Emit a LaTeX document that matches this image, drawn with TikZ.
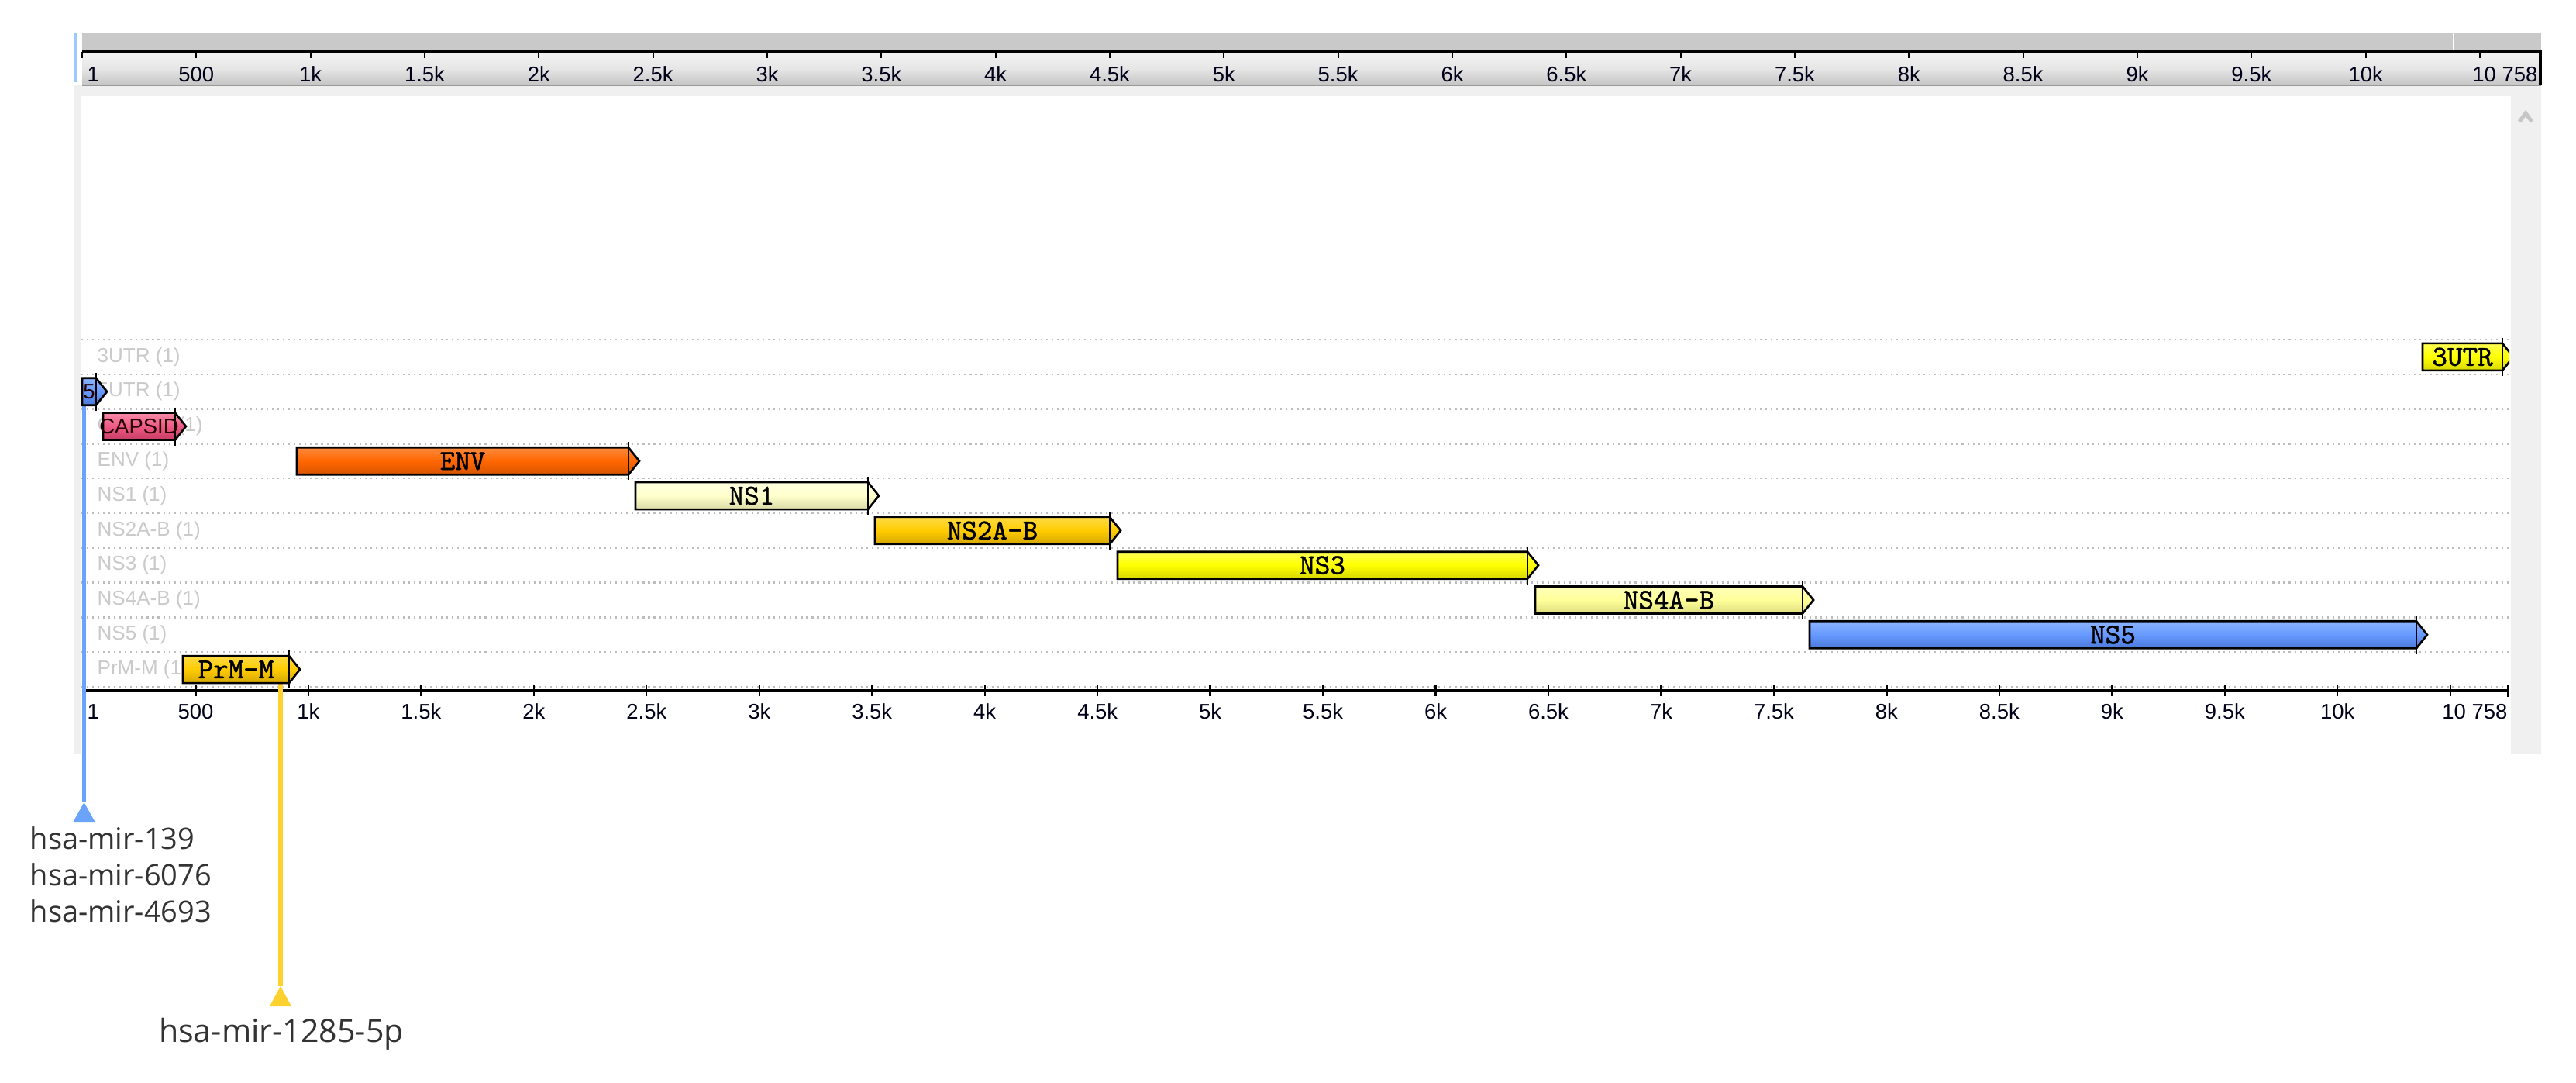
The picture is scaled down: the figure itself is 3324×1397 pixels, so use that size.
\documentclass[tikz,border=0pt]{standalone}
\usepackage{fontspec}
\setmainfont{Liberation Sans}
\newfontfamily\monof[FakeBold=1.2]{Latin Modern Mono}
\newfontfamily\mirf{Open Sans}
\definecolor{topgray}{HTML}{C9C9C9}
\definecolor{framegray}{HTML}{F0F0F0}
\definecolor{bandtop}{HTML}{F2F2F2}
\definecolor{bandmid}{HTML}{E6E6E6}
\definecolor{bandbot}{HTML}{C4C4C4}
\definecolor{stripblue}{HTML}{9CC9FF}
\definecolor{rowgray}{HTML}{CACACA}
\definecolor{dotgray}{HTML}{BDBDBD}
\definecolor{mblue}{HTML}{6AA3FA}
\definecolor{myellow}{HTML}{FFD12E}
\definecolor{mirtext}{HTML}{333333}
% feature colours
\definecolor{blT}{HTML}{8CB4FF}\definecolor{blM}{HTML}{6699FF}\definecolor{blB}{HTML}{4A78D8}
\definecolor{pkT}{HTML}{F88AA8}\definecolor{pkM}{HTML}{EE5A85}\definecolor{pkB}{HTML}{C83C64}
\definecolor{orT}{HTML}{FF8A3D}\definecolor{orM}{HTML}{FF6600}\definecolor{orB}{HTML}{D85400}
\definecolor{pyT}{HTML}{FFFFE0}\definecolor{pyM}{HTML}{FFFFCC}\definecolor{pyB}{HTML}{DADAA6}
\definecolor{gdT}{HTML}{FFDA45}\definecolor{gdM}{HTML}{FFCC00}\definecolor{gdB}{HTML}{D4A600}
\definecolor{ylT}{HTML}{FFFF55}\definecolor{ylM}{HTML}{FFFF00}\definecolor{ylB}{HTML}{D6D600}
\definecolor{lyT}{HTML}{FFFFBB}\definecolor{lyM}{HTML}{FFFF99}\definecolor{lyB}{HTML}{DCDC7E}

\newcommand\feat[9]{%
  \pgfmathsetmacro\fc{460.4+44.8*#4}%
  \path[draw=black, line width=0.75pt, line join=miter, top color=#5, bottom color=#7, middle color=#6]
    (#2,\fc-17.5) -- (#3,\fc-17.5) -- (#3+14,\fc) -- (#3,\fc+17.5) -- (#2,\fc+17.5) -- cycle;
  \draw[line width=0.65pt] (#3,\fc-24.5) -- (#3,\fc+24.5);
  \node[#9] (#1) at ({(#2+#3)/2},\fc) {#8};
}

\begin{document}
\begin{tikzpicture}[x=0.01cm,y=-0.01cm,
  rulerlab/.style={font=\fontsize{7.8}{9}\selectfont, text=black!90!blue, inner sep=0pt},
  rowlab/.style={font=\fontsize{7.4}{9}\selectfont, text=rowgray, anchor=west, inner sep=0pt},
  featlab/.style={font=\monof\fontsize{10.6}{12}\selectfont, text=black, inner sep=0pt},
  sanslab/.style={font=\fontsize{7.8}{9}\selectfont, text=black!85!red, inner sep=0pt},
  mirlab/.style={font=\mirf\fontsize{10.8}{13}\selectfont, text=mirtext, inner sep=0pt},
  dotline/.style={dotgray, line width=0.7pt, dash pattern=on 0.6pt off 1.4pt},
  tickline/.style={black, line width=0.65pt}]
\useasboundingbox[fill=white] (0,0) rectangle (3324,1397);

% frame
\fill[framegray] (95,110) rectangle (3279,124);
\fill[framegray] (95,110) rectangle (105,973);
\fill[framegray] (3240,124) rectangle (3279,973);
\draw[gray!45, line width=1.4pt, line join=miter] (3251,157) -- (3259,146) -- (3267,157);

% overview ruler
\fill[topgray] (106,43) rectangle (3279,67);
\shade[top color=bandtop, bottom color=bandbot, middle color=bandmid] (106,67) rectangle (3279,110);
\draw[gray!80, line width=0.8pt] (106,110) -- (3279,110);
\fill[stripblue] (95,43) rectangle (100,106);
\draw[white, line width=0.8pt] (3166,43) -- (3166,66);
\draw[line width=0.9pt] (106,67) -- (3279,67);
\draw[line width=0.9pt] (3278,65) -- (3278,110);
\foreach \v in {0,500,...,10500} \draw[tickline] ({106+0.29467*\v},67) -- ++(0,8);
\node[rulerlab, anchor=west] (tl1) at (112,96) {1};
\foreach \v/\lab in {500/500,1000/1k,1500/1.5k,2000/2k,2500/2.5k,3000/3k,3500/3.5k,4000/4k,4500/4.5k,5000/5k,5500/5.5k,6000/6k,6500/6.5k,7000/7k,7500/7.5k,8000/8k,8500/8.5k,9000/9k,9500/9.5k,10000/10k}
  \node[rulerlab] (tl\v) at ({106+0.29467*\v},96) {\lab};
\node[rulerlab, anchor=east] (tlend) at (3275,96) {10 758};

% track rows
\foreach \k in {0,...,10} \draw[dotline] (105,{438+44.8*\k}) -- (3238,{438+44.8*\k});
\foreach \i/\lab in {0/{3UTR (1)},1/{5UTR (1)},2/{CAPSID (1)},3/{ENV (1)},4/{NS1 (1)},5/{NS2A-B (1)},6/{NS3 (1)},7/{NS4A-B (1)},8/{NS5 (1)},9/{PrM-M (1)}}
  \node[rowlab] (rl\i) at (125,{460.4+44.8*\i}) {\lab};

% bottom ruler
\draw[line width=1pt] (107,891) -- (3236.7,891);
\foreach \v in {0,500,...,10500} \draw[tickline] ({107+0.29092*\v},884) -- ++(0,14);
\draw[line width=0.8pt] (3236.5,884) -- (3236.5,899);
\node[rulerlab, anchor=west] (bl1) at (112,918) {1};
\foreach \v/\lab in {500/500,1000/1k,1500/1.5k,2000/2k,2500/2.5k,3000/3k,3500/3.5k,4000/4k,4500/4.5k,5000/5k,5500/5.5k,6000/6k,6500/6.5k,7000/7k,7500/7.5k,8000/8k,8500/8.5k,9000/9k,9500/9.5k,10000/10k}
  \node[rulerlab] (bl\v) at ({107+0.29092*\v},918) {\lab};
\node[rulerlab, anchor=east] (blend) at (3236,918) {10 758};

% miRNA marker lines
\coordinate (m1) at (108.5,510);
\coordinate (t1) at (108.5,1035);
\coordinate (m2) at (362,870);
\coordinate (t2) at (362,1272);
\draw[mblue, line width=1.5pt] (m1) -- (t1);
\draw[myellow, line width=1.5pt] (m2) -- (t2);

% features
\begin{scope}
\clip (95,124) rectangle (3238,973);
\feat{utr3}{3126}{3229}{0}{ylT}{ylM}{ylB}{3UTR}{featlab}
\feat{utr5}{106}{124}{1}{blT}{blM}{blB}{5}{sanslab}
\feat{capsid}{133}{226}{2}{pkT}{pkM}{pkB}{CAPSID}{sanslab}
\feat{env}{383}{811}{3}{orT}{orM}{orB}{ENV}{featlab}
\feat{ns1}{820}{1120}{4}{pyT}{pyM}{pyB}{NS1}{featlab}
\feat{ns2}{1129}{1432}{5}{gdT}{gdM}{gdB}{NS2A-B}{featlab}
\feat{ns3}{1442}{1971}{6}{ylT}{ylM}{ylB}{NS3}{featlab}
\feat{ns4}{1981}{2326}{7}{lyT}{lyM}{lyB}{NS4A-B}{featlab}
\feat{ns5}{2335}{3118}{8}{blT}{blM}{blB}{NS5}{featlab}
\feat{prm}{236}{373}{9}{gdT}{gdM}{gdB}{PrM-M}{featlab}
\end{scope}

% triangles and labels
\fill[mblue] (t1) -- ++(14,25) -- ++(-28,0) -- cycle;
\fill[myellow] (t2) -- ++(14,26) -- ++(-28,0) -- cycle;
\node[mirlab, anchor=base west] (mir139) at (38,1095) {hsa-mir-139};
\node[mirlab, anchor=base west] (mir6076) at (38,1142) {hsa-mir-6076};
\node[mirlab, anchor=base west] (mir4693) at (38,1189) {hsa-mir-4693};
\node[mirlab, font=\mirf\fontsize{11.7}{14}\selectfont, anchor=base] (mir1285) at (363,1344) {hsa-mir-1285-5p};
\end{tikzpicture}
\end{document}
